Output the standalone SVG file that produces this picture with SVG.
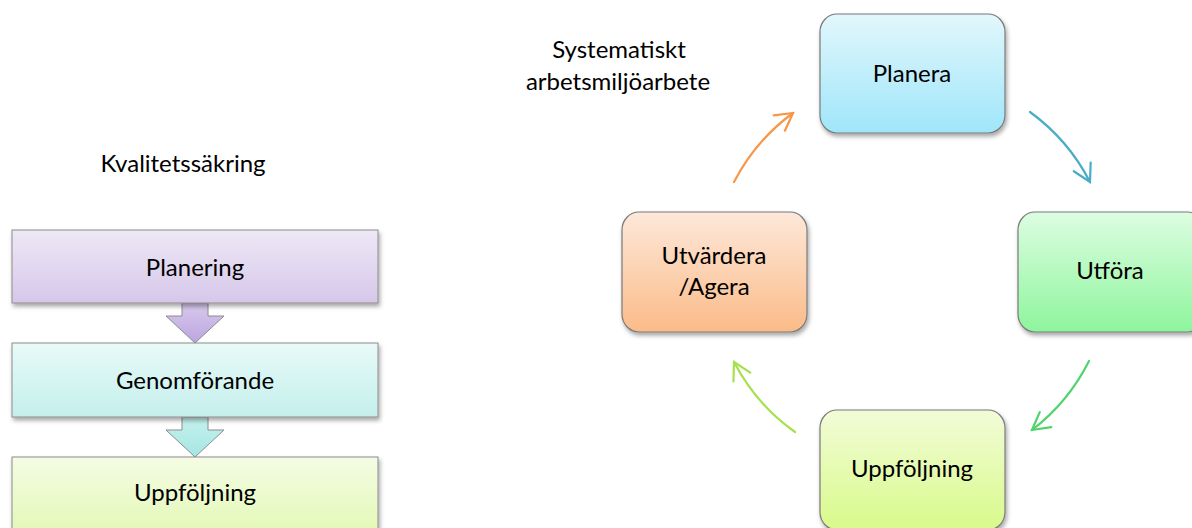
<svg xmlns="http://www.w3.org/2000/svg" width="1192" height="528" viewBox="0 0 1192 528">
  <style>
    text { font-family: Lato, "Open Sans", "Liberation Sans", sans-serif; font-size: 24px; fill: #000; text-anchor: middle; }
    .step { stroke: #8c8c8c; stroke-width: 1; filter: url(#shadow); }
    .card { stroke: #7a7a7a; stroke-width: 1.2; filter: url(#shadow); }
    .drop { stroke: #8c8c8c; stroke-width: 1; }
    .arc { fill: none; stroke-width: 2.2; stroke-linecap: round; }
  </style>
  <defs>
    <filter id="shadow" x="-10%" y="-10%" width="125%" height="130%">
      <feDropShadow dx="1.5" dy="3" stdDeviation="2" flood-color="#000" flood-opacity="0.35"/>
    </filter>
    <!-- process list fills -->
    <linearGradient id="gPlan" x1="0" y1="0" x2="0" y2="1"><stop offset="0" stop-color="#eee8f6"/><stop offset="1" stop-color="#d6c7ea"/></linearGradient>
    <linearGradient id="gGen" x1="0" y1="0" x2="0" y2="1"><stop offset="0" stop-color="#e8faf8"/><stop offset="1" stop-color="#c4efec"/></linearGradient>
    <linearGradient id="gUpp" x1="0" y1="0" x2="0" y2="1"><stop offset="0" stop-color="#f4fce4"/><stop offset="1" stop-color="#e2f8b4"/></linearGradient>
    <linearGradient id="gDrop1" x1="0" y1="0" x2="0" y2="1"><stop offset="0" stop-color="#d8c9ec"/><stop offset="1" stop-color="#bca5df"/></linearGradient>
    <linearGradient id="gDrop2" x1="0" y1="0" x2="0" y2="1"><stop offset="0" stop-color="#c6f1ee"/><stop offset="1" stop-color="#a3e7e3"/></linearGradient>
    <!-- cycle fills -->
    <linearGradient id="cPlanera" x1="0" y1="0" x2="0" y2="1"><stop offset="0" stop-color="#e2f7fc"/><stop offset="1" stop-color="#9fe6fa"/></linearGradient>
    <linearGradient id="cUtfora" x1="0" y1="0" x2="0" y2="1"><stop offset="0" stop-color="#ddfde2"/><stop offset="1" stop-color="#8ef59c"/></linearGradient>
    <linearGradient id="cUppf" x1="0" y1="0" x2="0" y2="1"><stop offset="0" stop-color="#f2fcd8"/><stop offset="1" stop-color="#d8fa8a"/></linearGradient>
    <linearGradient id="cUtv" x1="0" y1="0" x2="0" y2="1"><stop offset="0" stop-color="#fde8da"/><stop offset="1" stop-color="#fbbb88"/></linearGradient>
    <!-- open chevron heads for the cycle arrows -->
    <marker id="hOrange" markerUnits="userSpaceOnUse" markerWidth="40" markerHeight="40" refX="0" refY="0" viewBox="-25 -20 30 40" orient="auto"><path d="M-17,-9.5 L0,0 L-17,9.5" fill="none" stroke="#f79646" stroke-width="2.2" stroke-linecap="round"/></marker>
    <marker id="hTeal" markerUnits="userSpaceOnUse" markerWidth="40" markerHeight="40" refX="0" refY="0" viewBox="-25 -20 30 40" orient="auto"><path d="M-17,-9.5 L0,0 L-17,9.5" fill="none" stroke="#4bacc6" stroke-width="2.2" stroke-linecap="round"/></marker>
    <marker id="hGreen" markerUnits="userSpaceOnUse" markerWidth="40" markerHeight="40" refX="0" refY="0" viewBox="-25 -20 30 40" orient="auto"><path d="M-17,-9.5 L0,0 L-17,9.5" fill="none" stroke="#4fd36c" stroke-width="2.2" stroke-linecap="round"/></marker>
    <marker id="hLime" markerUnits="userSpaceOnUse" markerWidth="40" markerHeight="40" refX="0" refY="0" viewBox="-25 -20 30 40" orient="auto"><path d="M-17,-9.5 L0,0 L-17,9.5" fill="none" stroke="#a6e04c" stroke-width="2.2" stroke-linecap="round"/></marker>
  </defs>

  <!-- headings -->
  <g id="title-kvalitet"><text x="183" y="172">Kvalitetssäkring</text></g>
  <g id="title-sam"><text x="619" y="58">Systematiskt</text><text x="618" y="90">arbetsmiljöarbete</text></g>

  <!-- process list: block arrows sit behind the steps -->
  <g id="drop-arrows">
    <polygon class="drop" fill="url(#gDrop1)" points="182,303 208,303 208,316 224,316 195,343 166,316 182,316"/>
    <polygon class="drop" fill="url(#gDrop2)" points="182,417 208,417 208,430 224,430 195,457 166,430 182,430"/>
  </g>
  <g id="step-planering">
    <rect class="step" x="12" y="230" width="366" height="73" fill="url(#gPlan)"/>
    <text x="195" y="276">Planering</text>
  </g>
  <g id="step-genomforande">
    <rect class="step" x="12" y="343" width="366" height="74" fill="url(#gGen)"/>
    <text x="195" y="389">Genomförande</text>
  </g>
  <g id="step-uppfoljning">
    <rect class="step" x="12" y="457" width="366" height="80" fill="url(#gUpp)"/>
    <text x="195" y="501">Uppföljning</text>
  </g>

  <!-- cycle -->
  <g id="connectors">
    <path class="arc" stroke="#f79646" marker-end="url(#hOrange)" d="M734,182 A199,199 0 0 1 793,113"/>
    <path class="arc" stroke="#4bacc6" marker-end="url(#hTeal)" d="M1030,112 A199,199 0 0 1 1090,182"/>
    <path class="arc" stroke="#4fd36c" marker-end="url(#hGreen)" d="M1089,361 A199,199 0 0 1 1032,430"/>
    <path class="arc" stroke="#a6e04c" marker-end="url(#hLime)" d="M795,432 A199,199 0 0 1 734,362"/>
  </g>
  <g id="node-planera">
    <rect class="card" x="820" y="14" width="185" height="119" rx="17" ry="18" fill="url(#cPlanera)"/>
    <text x="912" y="82">Planera</text>
  </g>
  <g id="node-utfora">
    <rect class="card" x="1018" y="212" width="186" height="120" rx="17" ry="18" fill="url(#cUtfora)"/>
    <text x="1110" y="279">Utföra</text>
  </g>
  <g id="node-uppfoljning">
    <rect class="card" x="820" y="410" width="185" height="120" rx="17" ry="18" fill="url(#cUppf)"/>
    <text x="912" y="477">Uppföljning</text>
  </g>
  <g id="node-utvardera">
    <rect class="card" x="622" y="212" width="185" height="120" rx="17" ry="18" fill="url(#cUtv)"/>
    <text x="714" y="264">Utvärdera</text>
    <text x="714" y="295">/Agera</text>
  </g>
</svg>
